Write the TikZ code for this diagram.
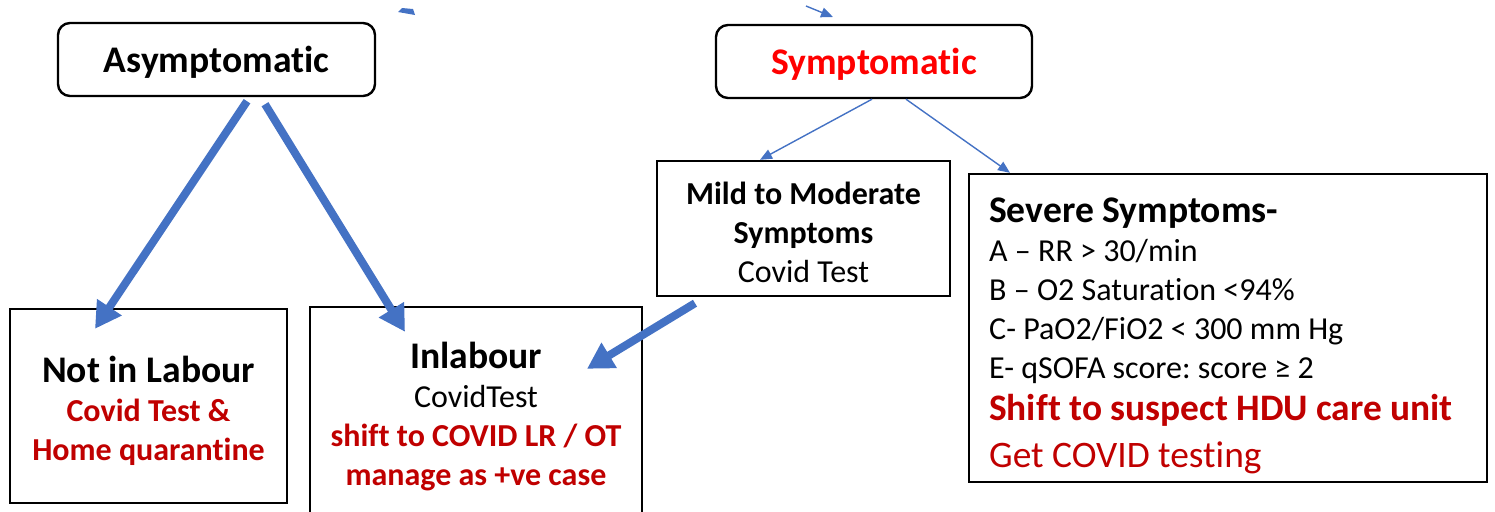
\documentclass[tikz,border=0pt]{standalone}
\usepackage{fontspec}
\setmainfont{Carlito}[Ligatures=NoCommon]
\usetikzlibrary{arrows.meta,calc}
\definecolor{arrowblue}{HTML}{4472C4}
\definecolor{darkred}{HTML}{C00000}
\definecolor{brightred}{HTML}{FF0000}
\frenchspacing
\newcommand{\bigfont}{\fontsize{18.8}{22}\selectfont}
\newcommand{\smallfont}{\fontsize{16}{19.5}\selectfont}
\begin{document}
\begin{tikzpicture}[x=0.5pt,y=-0.5pt,
  box/.style={draw=black, line width=1.2pt, inner sep=0pt},
  rbox/.style={box, rounded corners=6pt, text depth=0pt,
               font=\bigfont\bfseries},
  txt/.style={inner sep=0pt, align=center, font=\smallfont},
  bigarrow/.style={draw=arrowblue, line width=4pt,
                   -{Triangle[length=13pt,width=14pt]}, arrowblue},
  thinarrow/.style={draw=arrowblue, line width=0.7pt,
                    -{Triangle[length=6pt,width=5pt]}, arrowblue}
]
\useasboundingbox (0,0) rectangle (1495,511);
\clip (0,0) rectangle (1495,511);

% boxes
\node[rbox, minimum width=158.5pt, minimum height=36.5pt] (asym) at (216.5,59.5) {Asymptomatic};
\node[rbox, minimum width=158pt, minimum height=36.5pt, text=brightred] (symp) at (874,61.5) {Symptomatic};
\node[box, minimum width=146.5pt, minimum height=67.5pt] (mild) at (803.5,228.5) {};
\node[box, minimum width=259pt, minimum height=154pt] (sev) at (1228,328) {};
\node[box, minimum width=138.5pt, minimum height=97pt] (notlab) at (148.5,406) {};
\node[box, minimum width=166pt, minimum height=108pt] (inlab) at (476,415) {};

% texts
\node[txt] (mildtext) at ($(mild.center)+(0,4)$)
  {\bfseries Mild to Moderate\\ \bfseries Symptoms\\Covid Test};

\node[txt, anchor=north west, text width=248pt, align=flush left] (sevtext)
  at ($(sev.north west)+(21,25)$)
  {{\bigfont\bfseries Severe Symptoms-\par}
   {\smallfont A – RR > 30/min\par}
   {\smallfont B – O2 Saturation <94\%\par}
   {\smallfont C- PaO2/FiO2 < 300 mm Hg\par}
   {\smallfont E- qSOFA score: score ≥ 2\par}
   {\fontsize{18.7}{21}\selectfont\bfseries\color{darkred}Shift to suspect HDU care unit\par}
   {\fontsize{18.7}{23.5}\selectfont\color{darkred}Get COVID testing\par}};

\node[txt] (notlabtext) at ($(notlab.center)+(0,5)$)
  {{\bigfont\bfseries Not in Labour}\\
   {\bfseries\color{darkred}Covid Test \&}\\
   {\bfseries\color{darkred}Home quarantine}};

\node[txt] (inlabtext) at ($(inlab.center)+(0,2)$)
  {{\bigfont\bfseries Inlabour}\\
   CovidTest\\
   {\bfseries\color{darkred}shift to COVID LR / OT}\\
   {\bfseries\color{darkred}manage as +ve case}};

% connectors
\draw[bigarrow] ($(asym.south)+(30.5,4)$) -- ($(notlab.north)+(-53.5,21)$);
\draw[bigarrow] ($(asym.south)+(48.5,7)$) -- ($(inlab.north)+(-71,26)$);
\draw[bigarrow] ($(mild.south)+(-108.5,6)$) -- ($(inlab.north)+(111,63)$);
\draw[thinarrow] ($(symp.south)+(-2,0)$) -- ($(mild.north)+(-43.5,0)$);
\draw[thinarrow] ($(symp.south)+(32,0)$) -- ($(sev.north)+(-218,0)$);

% fragments at the top edge
\fill[arrowblue] (398,12) -- (402,8) -- (413,9) -- (415,15) -- cycle;
\coordinate (fragstart) at (806,6);
\coordinate (fragend) at (833,17);
\draw[thinarrow] (fragstart) -- (fragend);
\end{tikzpicture}
\end{document}
